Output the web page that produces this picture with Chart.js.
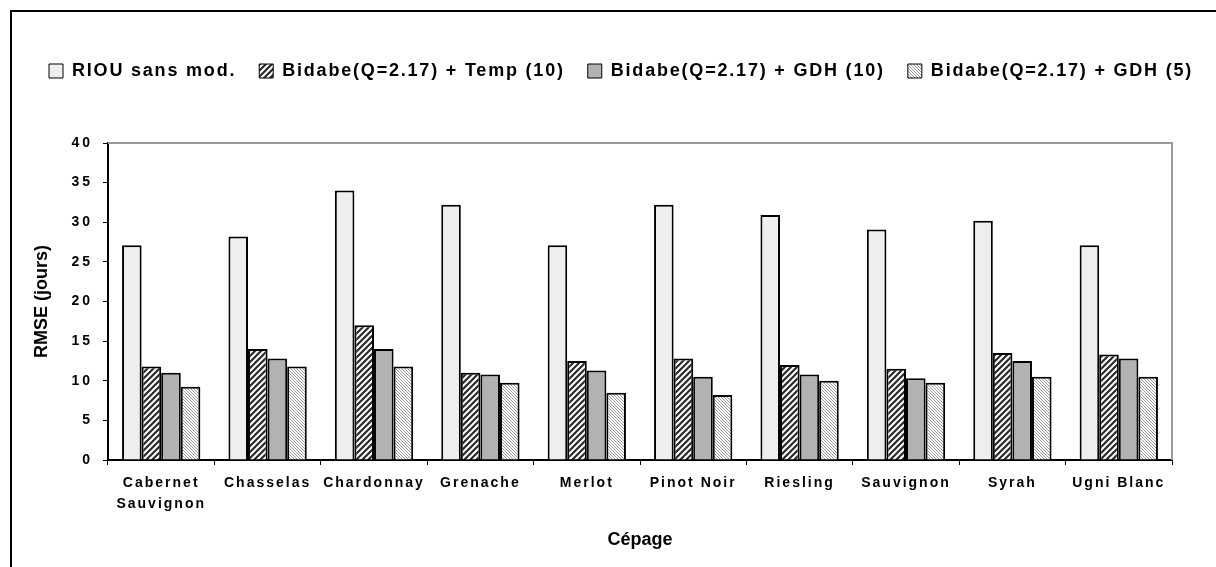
<!DOCTYPE html>
<html>
<head>
<meta charset="utf-8">
<script src="https://cdn.jsdelivr.net/npm/chart.js@4.4.0/dist/chart.umd.min.js"></script>
<style>
html,body{margin:0;padding:0;background:#fff;}
#wrap{position:relative;width:1216px;height:567px;}
</style>
</head>
<body>
<div id="wrap"><canvas id="c" width="1216" height="567"></canvas></div>
<script>
// ---- data ----
const categories = [['Cabernet','Sauvignon'],'Chasselas','Chardonnay','Grenache','Merlot','Pinot Noir','Riesling','Sauvignon','Syrah','Ugni Blanc'];
const seriesNames = ['RIOU sans mod.','Bidabe(Q=2.17) + Temp (10)','Bidabe(Q=2.17) + GDH (10)','Bidabe(Q=2.17) + GDH (5)'];
const riouValues   = [27.1, 28.2, 34.0, 32.2, 27.1, 32.2, 30.9, 29.1, 30.2, 27.1];
const temp10Values = [11.8, 14.0, 17.0, 11.0, 12.5, 12.8, 12.0, 11.5, 13.5, 13.3];
const gdh10Values  = [11.0, 12.8, 14.0, 10.8, 11.3, 10.5, 10.8, 10.3, 12.5, 12.8];
const gdh5Values   = [9.25, 11.8, 11.8, 9.75, 8.5, 8.2, 10.0, 9.75, 10.5, 10.5];
const yMin = 0, yMax = 40, yStep = 5;
const xTitle = 'Cépage';
const yTitle = 'RMSE (jours)';

const FONT = '"Liberation Sans", Arial, sans-serif';

// ---- patterns ----
function makePattern(size, draw){
  const c = document.createElement('canvas');
  c.width = size; c.height = size;
  const g = c.getContext('2d');
  g.fillStyle = '#fff'; g.fillRect(0,0,size,size);
  draw(g, size);
  return g.createPattern(c, 'repeat');
}
const hatchTemp = makePattern(6, (g,s)=>{
  g.strokeStyle = '#2a2a2a'; g.lineWidth = 2.2; g.lineCap = 'square';
  g.beginPath();
  for (const c of [0, s, 2*s]) { g.moveTo(c, 0); g.lineTo(c - s, s); }
  g.stroke();
});
const hatchGdh5 = makePattern(3, (g,s)=>{
  g.strokeStyle = '#9a9a9a'; g.lineWidth = 1;
  g.beginPath();
  for (const c of [-s, 0, s]) { g.moveTo(c, 0); g.lineTo(c + s, s); }
  g.stroke();
});

function withSpacing(obj, method, spacing){
  const flag = '__sp_' + method;
  if (obj[flag]) return;
  const orig = obj[method];
  obj[method] = function(...a){
    const ctx = this.ctx;
    ctx.save();
    ctx.letterSpacing = spacing;
    const r = orig.apply(this, a);
    ctx.restore();
    return r;
  };
  obj[flag] = true;
}

const LEGEND_TOP = 39;
const LEGEND_PAD = 23;
const PLOT_TOP = 143;

const customPlugin = {
  id: 'custom',
  beforeInit(chart){
    const L = chart.legend;
    const fit = L.fit;
    L.fit = function(){ fit.call(this); this.height = PLOT_TOP - LEGEND_TOP; };
    withSpacing(L, 'draw', '1.8px');
  },
  afterLayout(chart){
    const L = chart.legend;
    L.left = 49 - LEGEND_PAD;
    L.right = 1400;
    withSpacing(chart.scales.x, 'drawLabels', '2px');
    withSpacing(chart.scales.y, 'drawLabels', '3px');
  },
  beforeDraw(chart){
    const ctx = chart.ctx;
    ctx.save();
    ctx.fillStyle = '#fff';
    ctx.fillRect(0,0,chart.width,chart.height);
    ctx.fillStyle = '#000';
    ctx.fillRect(10,10,chart.width-10,2);
    ctx.fillRect(10,10,2,chart.height-10);
    ctx.restore();
  },
  beforeDatasetsDraw(chart){
    const {ctx, chartArea:a} = chart;
    ctx.save();
    ctx.strokeStyle = '#9a9a9a';
    ctx.lineWidth = 2;
    ctx.beginPath();
    ctx.moveTo(a.left, a.top);
    ctx.lineTo(a.right, a.top);
    ctx.lineTo(a.right, a.bottom);
    ctx.stroke();
    ctx.restore();
  }
};

const fills = ['#eeeeee', hatchTemp, '#b2b2b2', hatchGdh5];
const values = [riouValues, temp10Values, gdh10Values, gdh5Values];

new Chart(document.getElementById('c'), {
  type: 'bar',
  data: {
    labels: categories,
    datasets: seriesNames.map((name, i) => ({
      label: name,
      data: values[i],
      backgroundColor: fills[i],
      borderColor: '#000',
      borderWidth: 2,
      categoryPercentage: 0.736,
      barPercentage: 1.0
    }))
  },
  options: {
    responsive: false,
    animation: false,
    devicePixelRatio: 1,
    layout: { padding: { top: LEGEND_TOP, left: 0, right: 44, bottom: 0 } },
    plugins: {
      tooltip: { enabled: false },
      legend: {
        position: 'top',
        align: 'start',
        labels: {
          color: '#000',
          boxWidth: 14,
          boxHeight: 14,
          padding: LEGEND_PAD,
          font: { family: FONT, size: 18, weight: 'bold' },
          generateLabels(chart){
            const items = Chart.defaults.plugins.legend.labels.generateLabels(chart);
            items.forEach(it => { it.lineWidth = 1; it.strokeStyle = '#000'; });
            return items;
          }
        }
      }
    },
    scales: {
      x: {
        grid: { drawOnChartArea: false, color: '#000', tickLength: 5, offset: true, lineWidth: 1 },
        border: { color: '#000', width: 2 },
        ticks: { color: '#000', font: { family: FONT, size: 14, weight: 'bold', lineHeight: 1.5 }, padding: 8, maxRotation: 0, autoSkip: false },
        title: { display: true, text: xTitle, color: '#000', font: { family: FONT, size: 18, weight: 'bold' }, padding: { top: 0, bottom: 16 } },
        afterFit(s){ s.height = 107; }
      },
      y: {
        min: yMin, max: yMax,
        grid: { drawOnChartArea: false, color: '#000', tickLength: 5, lineWidth: 1 },
        border: { color: '#000', width: 2 },
        ticks: { stepSize: yStep, color: '#000', font: { family: FONT, size: 14, weight: 'bold' }, padding: 10 },
        title: { display: true, text: yTitle, color: '#000', font: { family: FONT, size: 18, weight: 'bold' }, padding: { top: 31, bottom: 0 } },
        afterFit(s){ s.width = 108; }
      }
    }
  },
  plugins: [customPlugin]
});
</script>
</body>
</html>
